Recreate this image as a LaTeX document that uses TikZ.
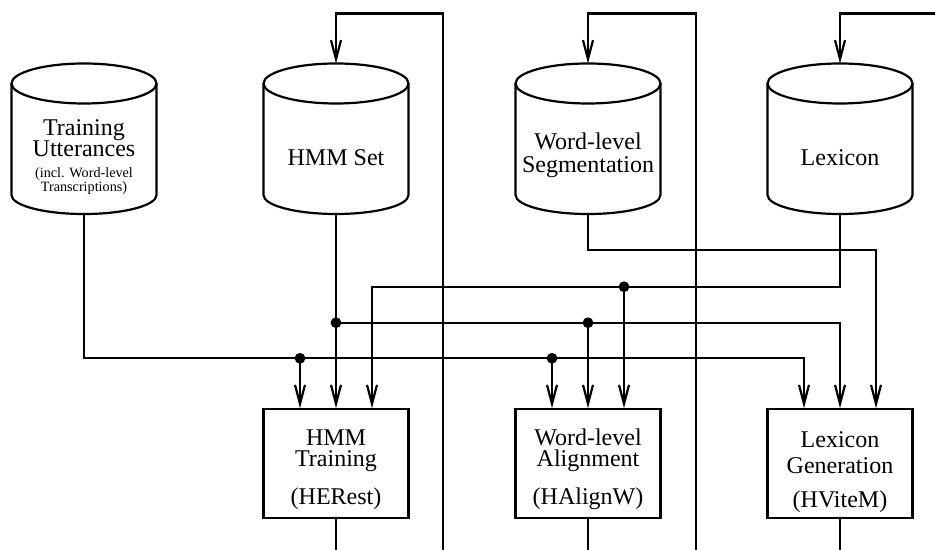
\documentclass[tikz,border=0pt]{standalone}
\usepackage{fontspec}
\setmainfont{Liberation Serif}
\usetikzlibrary{arrows.meta}

% outline of a data store (cylinder) drawn around an invisible node
\newcommand\drumoutline[1]{%
  \draw[wire] ([yshift=-10pt]#1.north west) -- ([yshift=9.5pt]#1.south west)
    arc[start angle=180,end angle=360,x radius=36.25pt,y radius=9.5pt]
    -- ([yshift=-10pt]#1.north east);
  \draw[wire] ([yshift=-10pt]#1.north) ellipse[x radius=36.25pt,y radius=10pt];}

\begin{document}
\begin{tikzpicture}[x=0.5pt,y=-0.5pt,
  wire/.style={line width=1.1pt},
  feed/.style={wire,-{Straight Barb[length=9.5pt,width=5pt]}},
  store/.style={minimum width=72.5pt,minimum height=75.25pt,inner sep=0pt,outer sep=0pt},
  proc/.style={draw,line width=1.1pt,minimum width=72.5pt,minimum height=54.2pt,inner sep=0pt},
  bigtext/.style={align=center,inner sep=0pt,font=\fontsize{12}{10.5}\selectfont\lineskiplimit-20pt},
  smalltext/.style={align=center,inner sep=0pt,font=\fontsize{7.1}{7}\selectfont\lineskiplimit-20pt}]

\useasboundingbox (0,0) rectangle (935,550);

% data stores
\node[store] (utt) at (84,138.75) {};
\node[store] (hmm) at (336,138.75) {};
\node[store] (seg) at (588,138.75) {};
\node[store] (lex) at (840,138.75) {};
\drumoutline{utt}
\drumoutline{hmm}
\drumoutline{seg}
\drumoutline{lex}

\node[bigtext] (utttext) at (84,138.5) {Training\\Utterances};
\node[smalltext] (uttnote) at (84,180.6) {(incl. Word-level\\Transcriptions)};
\node[bigtext] (hmmtext) at (336,158) {HMM Set};
\node[bigtext] (segtext) at (588,155.3) {Word-level\\[0.65pt]Segmentation};
\node[bigtext] (lextext) at (840,157.8) {Lexicon};

% processing tools
\node[proc] (train) at (336,463.5) {};
\node[proc] (align) at (588,463.5) {};
\node[proc] (lexgen) at (840,463.5) {};
\node[bigtext] (traintext) at (336,469.6) {HMM\\Training\\[8.3pt](HERest)};
\node[bigtext] (aligntext) at (588,469.4) {Word-level\\Alignment\\[8.3pt](HAlignW)};
\node[bigtext] (lexgentext) at (840,472.1) {Lexicon\\[2.3pt]Generation\\[6.7pt](HViteM)};

% input points on top of each tool
\foreach \b in {train,align,lexgen} {
  \coordinate (\b A) at ([xshift=-18pt]\b.north);
  \coordinate (\b B) at (\b.north);
  \coordinate (\b C) at ([xshift=18pt]\b.north);
}

% bus levels and loose ends
\coordinate (yA) at (0,358.3);
\coordinate (yB) at (0,322.7);
\coordinate (yC) at (0,286.7);
\coordinate (yD) at (0,250);
\coordinate (yT) at (0,13.5);
\coordinate (yE) at (0,550);
\coordinate (fbA) at (443.3,550);
\coordinate (fbB) at (696,550);
\coordinate (fbC) at (935,13.5);

% training utterances
\draw[feed] (utt.south) |- (lexgenA |- yA) -- (lexgenA);
\draw[feed] (trainA |- yA) -- (trainA);
\draw[feed] (alignA |- yA) -- (alignA);
% HMM set
\draw[feed] (hmm.south) -- (trainB);
\draw[feed] (trainB |- yB) -| (lexgenB);
\draw[feed] (alignB |- yB) -- (alignB);
% lexicon
\draw[feed] (lex.south) |- (trainC |- yC) -- (trainC);
\draw[feed] (alignC |- yC) -- (alignC);
% word-level segmentation
\draw[feed] (seg.south) |- (lexgenC |- yD) -- (lexgenC);

% feedback into the stores
\draw[feed] (fbA) |- (hmm.north |- yT) -- (hmm.north);
\draw[feed] (fbB) |- (seg.north |- yT) -- (seg.north);
\draw[feed] (fbC) -- (lex.north |- yT) -- (lex.north);

% tool outputs
\draw[wire] (train.south) -- (train.south |- yE);
\draw[wire] (align.south) -- (align.south |- yE);
\draw[wire] (lexgen.south) -- (lexgen.south |- yE);

% junction dots
\fill (trainA |- yA) circle[radius=2.7pt];
\fill (alignA |- yA) circle[radius=2.7pt];
\fill (trainB |- yB) circle[radius=2.7pt];
\fill (alignB |- yB) circle[radius=2.7pt];
\fill (alignC |- yC) circle[radius=2.7pt];
\end{tikzpicture}
\end{document}
